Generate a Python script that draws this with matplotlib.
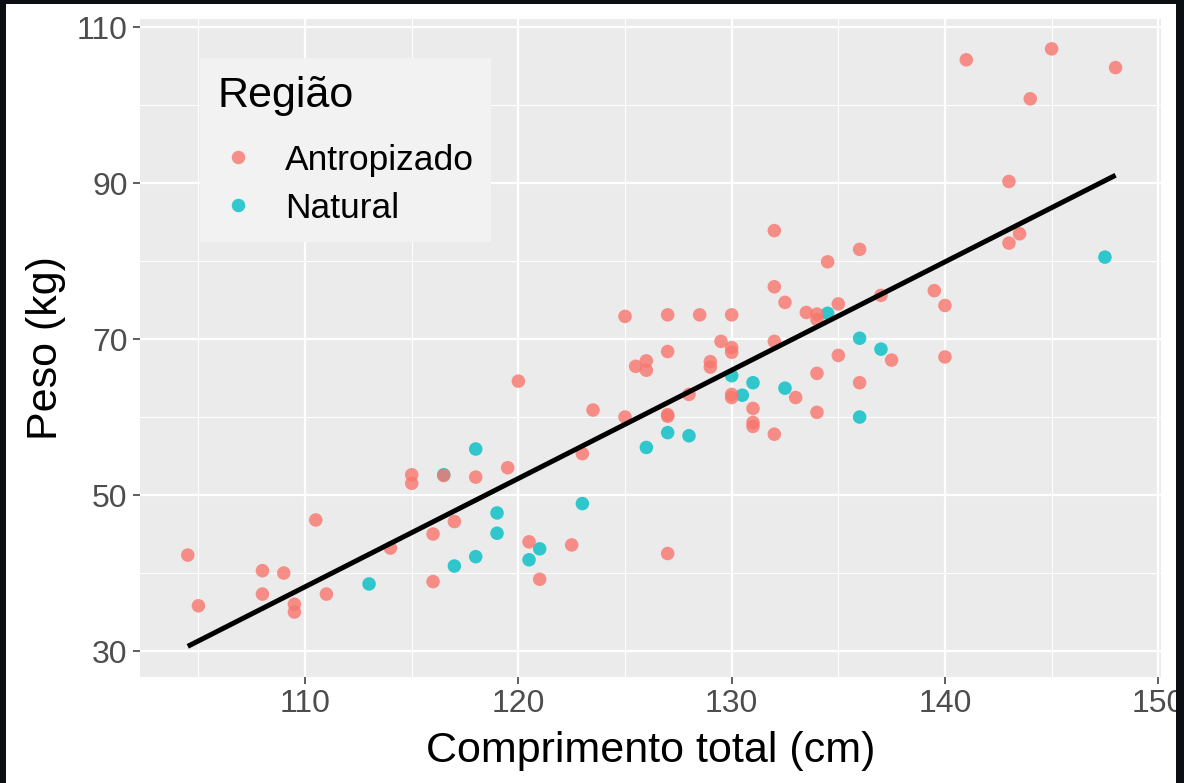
import numpy as np
import matplotlib.pyplot as plt
from matplotlib.patches import Rectangle
from matplotlib.ticker import MultipleLocator
from matplotlib.lines import Line2D

plt.rcParams['font.family'] = ['Liberation Sans', 'DejaVu Sans']

# Antropizado
antro_x = [104.5, 105, 108, 108, 109, 109.5, 109.5, 110.5, 111, 114,
           115, 115, 116.5, 116, 116, 117, 118, 119.5, 120, 120.5,
           121, 122.5, 123, 123.5, 125, 125, 125.5, 126, 126, 127,
           127, 127, 127, 127, 128, 128.5, 129, 129, 129.5, 130,
           130, 130, 130, 130, 131, 131, 131, 132, 132, 132,
           132, 132.5, 133, 133.5, 134, 134, 134, 134, 134.5, 135,
           135, 136, 136, 137, 137.5, 139.5, 140, 140, 141, 143,
           143, 143.5, 144, 145, 148]
antro_y = [42.3, 35.8, 40.3, 37.3, 40.0, 36.0, 35.0, 46.8, 37.3, 43.2,
           52.6, 51.5, 52.5, 45.0, 38.9, 46.6, 52.3, 53.5, 64.6, 44.0,
           39.2, 43.6, 55.3, 60.9, 60.0, 72.9, 66.5, 67.2, 66.0, 73.1,
           68.4, 60.3, 60.1, 42.5, 62.9, 73.1, 67.1, 66.4, 69.7, 73.1,
           68.9, 68.3, 62.9, 62.5, 61.1, 59.3, 58.8, 83.9, 76.7, 69.7,
           57.8, 74.7, 62.5, 73.4, 73.2, 72.5, 65.6, 60.6, 79.9, 74.5,
           67.9, 81.5, 64.4, 75.6, 67.3, 76.2, 74.3, 67.7, 105.8, 90.2,
           82.3, 83.5, 100.8, 107.2, 104.8]

# Natural
nat_x = [113, 116.5, 117, 118, 118, 119, 119, 120.5, 121, 123,
         126, 127, 128, 130, 130.5, 131, 132.5, 134.5, 136, 136,
         137, 147.5]
nat_y = [38.6, 52.6, 40.9, 55.9, 42.1, 47.7, 45.1, 41.7, 43.1, 48.9,
         56.1, 58.0, 57.6, 65.3, 62.8, 64.4, 63.7, 73.3, 70.1, 60.0,
         68.7, 80.5]

# linha de ajuste (lm)
fit_x = [104.5, 148.0]
fit_y = [30.6, 91.0]

x_ticks = [110, 120, 130, 140, 150]
y_ticks = [30, 50, 70, 90, 110]

col_antro = '#F8766D'
col_nat = '#00BFC4'

W, H = 1184, 783
fig = plt.figure(figsize=(W / 100, H / 100), dpi=100)
fig.patch.set_facecolor('white')

ax = fig.add_axes([140 / W, 1 - 677 / H, (1161 - 140) / W, (677 - 19) / H])
ax.set_facecolor('#EBEBEB')
for s in ax.spines.values():
    s.set_visible(False)

ax.set_xlim(102.26, 150.13)
ax.set_ylim(26.67, 111.03)
ax.set_xticks(x_ticks)
ax.set_yticks(y_ticks)
ax.xaxis.set_minor_locator(MultipleLocator(5))
ax.yaxis.set_minor_locator(MultipleLocator(10))
ax.set_axisbelow(True)
ax.grid(which='major', color='white', lw=1.6)
ax.grid(which='minor', color='white', lw=0.7)
ax.tick_params(which='minor', length=0)
ax.tick_params(which='major', length=5, width=1.1, color='#333333',
               labelcolor='#4D4D4D', labelsize=23, pad=4)

ax.scatter(nat_x, nat_y, s=95, color=col_nat, alpha=0.8, edgecolors='none', zorder=3)
ax.scatter(antro_x, antro_y, s=95, color=col_antro, alpha=0.8, edgecolors='none', zorder=3)
ax.plot(fit_x, fit_y, color='black', lw=3.6, solid_capstyle='butt', zorder=4)

ax.set_xlabel('Comprimento total (cm)', fontsize=31, labelpad=8)
ax.set_ylabel('Peso (kg)', fontsize=31, labelpad=8)

handles = [
    Line2D([], [], ls='none', marker='o', markersize=9.7, color=col_antro,
           alpha=0.8, markeredgewidth=0, label='Antropizado'),
    Line2D([], [], ls='none', marker='o', markersize=9.7, color=col_nat,
           alpha=0.8, markeredgewidth=0, label='Natural'),
]
leg = ax.legend(handles=handles, title='Região', loc='upper left',
                bbox_to_anchor=(0.0588, 0.9407), fontsize=25.5, title_fontsize=31,
                frameon=True, fancybox=False, framealpha=1, facecolor='#F2F2F2',
                edgecolor='none', borderpad=0.5, handletextpad=0.76,
                labelspacing=0.43, handlelength=1.13, alignment='left',
                borderaxespad=0)
leg._legend_box.sep = 20

# moldura escura do screenshot
dark = '#0b0f13'
for rect in [(0, 1 - 4 / H, 1, 4 / H), (0, 0, 6 / W, 1), (1176 / W, 0, 8 / W, 1)]:
    fig.patches.append(Rectangle(rect[:2], rect[2], rect[3], transform=fig.transFigure,
                                 facecolor=dark, edgecolor='none', zorder=10))

fig.savefig('out.png', dpi=100)
